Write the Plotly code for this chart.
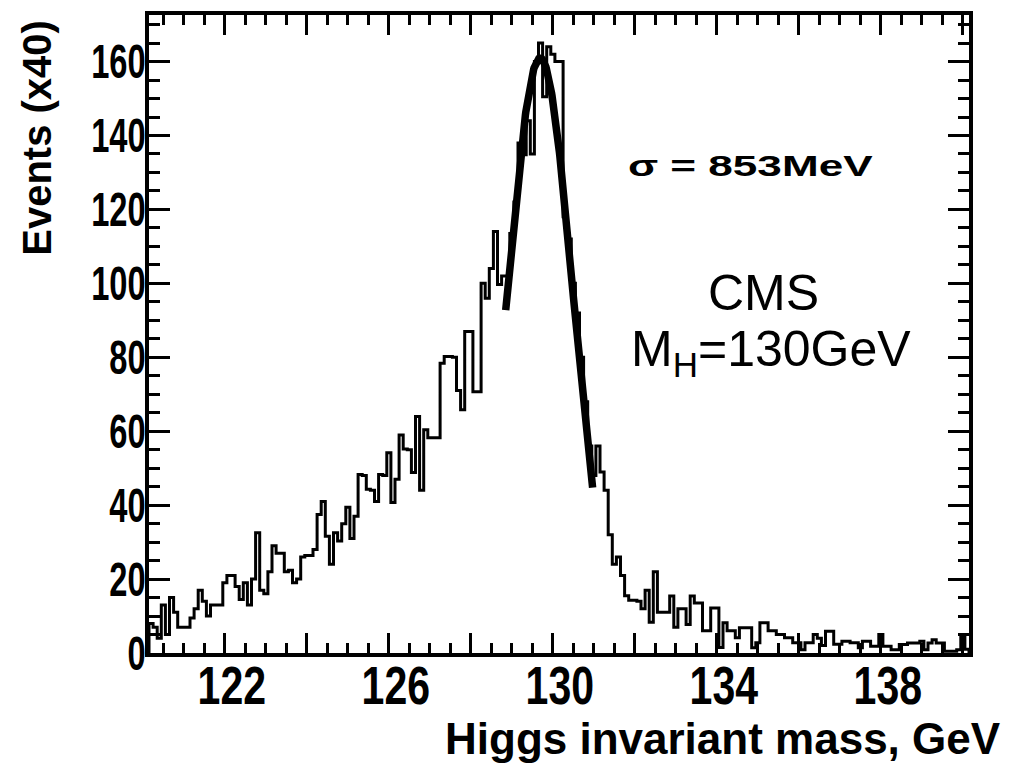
import numpy as np
import plotly.graph_objects as go

# ---------------- data ----------------
bin_start = 120.15          # GeV, left edge of first bin
bin_width = 0.1             # GeV
counts = [
    8, 7, 4, 13, 5, 15, 11, 7, 7, 7,
    9.5, 12, 17, 14, 10, 13, 13, 13, 19, 21,
    21, 18, 14.5, 19, 13, 20, 32.5, 17, 16, 22,
    29, 27, 27, 22, 22.4, 19, 20, 26, 26.4, 26.4,
    28, 37.5, 41, 31.6, 24, 32.5, 30.3, 35, 39.4, 31,
    37, 48.3, 48, 44.3, 44, 41, 48.3, 48, 54.2, 40.7,
    47, 59, 55.2, 55, 48.8, 64, 44, 60.4, 58.2, 58.2,
    58.2, 78.4, 80.2, 80.2, 80, 71, 65.8, 87, 87, 70.7,
    70.7, 100, 96, 104, 114, 99.7, 102, 102, 113.5, 122,
    138, 134.8, 144, 135, 160, 165, 150.5, 164, 162, 160,
    160, 118, 112, 100, 92, 80, 68, 56, 48, 56,
    49, 44, 32, 24, 26, 21, 15.5, 14.3, 14.3, 14,
    12, 17, 8.3, 22, 11, 11, 11, 15.4, 7, 12,
    12, 7.7, 15.4, 13.5, 13.5, 6, 6, 12.2, 12.2, 1.5,
    8.2, 6, 6, 4.1, 6.8, 6.8, 6.8, 1.4, 2.8, 8.2,
    8.2, 6, 6, 5, 5, 4.1, 4.1, 2.8, 2.8, 0.9,
    2.8, 2.8, 5, 4, 2, 5.9, 5.9, 2.4, 2.4, 3.2,
    3.2, 2.8, 2.8, 1.4, 3.2, 3.2, 1.8, 1.8, 5, 1.8,
    1.8, 0.9, 0.9, 2.3, 2.3, 2.7, 2.7, 2.7, 3.2, 0.9,
    2.7, 3.6, 2.7, 2.7, 0.5, 0.5, 0.5, 0.9, 4.5, 1,
]

# Gaussian fit parameters
fit_mean = 129.69
fit_sigma = 0.80
fit_amp = 161.0
fit_lo, fit_hi = 128.85, 130.97

x_tickvals = [122, 124, 126, 128, 130, 132, 134, 136, 138, 140]
x_ticktext = ["122", "", "126", "", "130", "", "134", "", "138", ""]
y_tickvals = [0, 20, 40, 60, 80, 100, 120, 140, 160]
y_ticktext = ["0", "20", "40", "60", "80", "100", "120", "140", "160"]

x_range = [120.15, 140.15]
y_range = [0, 172.6]

# ---------------- build ----------------
n = len(counts)
edges = bin_start + bin_width * np.arange(n + 1)
hx = np.concatenate([[edges[0]], edges, [edges[-1]]])
hy = np.concatenate([[0], counts, [counts[-1]], [0]])

fx = np.linspace(fit_lo, fit_hi, 200)
fy = fit_amp * np.exp(-0.5 * ((fx - fit_mean) / fit_sigma) ** 2)

fig = go.Figure()
fig.add_trace(go.Scatter(x=hx, y=hy, mode="lines", line=dict(color="black", width=3, shape="hv"),
                         hoverinfo="skip", showlegend=False))
fig.add_trace(go.Scatter(x=fx, y=fy, mode="lines", line=dict(color="black", width=7.5),
                         hoverinfo="skip", showlegend=False))

tick_font = dict(family="Liberation Sans, Arial", color="black", weight=700)

fig.update_xaxes(range=x_range, showline=True, linewidth=3.5, linecolor="black", mirror="ticks",
                 ticks="inside", ticklen=20, tickwidth=3, tickcolor="black",
                 tickmode="array", tickvals=x_tickvals, ticktext=x_ticktext,
                 tickfont=dict(tick_font, size=54), ticklabelshift=7, ticklabelstandoff=-18,
                 minor=dict(ticks="inside", ticklen=10, tickwidth=3, tickcolor="black", dtick=0.5, tick0=120),
                 showgrid=False, zeroline=False)
fig.update_yaxes(range=y_range, showline=True, linewidth=3.5, linecolor="black", mirror="ticks",
                 ticks="inside", ticklen=21, tickwidth=3, tickcolor="black",
                 tickmode="array", tickvals=y_tickvals, ticktext=y_ticktext,
                 tickfont=dict(tick_font, size=48), ticklabelstandoff=-10,
                 minor=dict(ticks="inside", ticklen=11, tickwidth=3, tickcolor="black", dtick=5, tick0=0),
                 showgrid=False, zeroline=False)

bold = dict(family="Liberation Sans, Arial", color="black", weight=700)
reg = dict(family="Liberation Sans, Arial", color="black")

fig.add_annotation(text="Events (x40)", xref="paper", yref="paper", x=-0.137, y=0.807,
                   textangle=-90, showarrow=False, font=dict(bold, size=40),
                   xanchor="center", yanchor="middle")
fig.add_annotation(text="Higgs invariant mass, GeV", xref="paper", yref="paper", x=1.0415, y=-0.134,
                   showarrow=False, font=dict(bold, size=44), xanchor="right", yanchor="middle")
fig.add_annotation(text="σ = 853MeV", x=134.82, y=131.8, showarrow=False,
                   font=dict(bold, size=30), xanchor="center", yanchor="middle")
fig.add_annotation(text="CMS", x=135.14, y=97.4, showarrow=False,
                   font=dict(reg, size=50), xanchor="center", yanchor="middle")
fig.add_annotation(text="M<sub>H</sub>=130GeV", x=135.33, y=81.2, showarrow=False,
                   font=dict(reg, size=50), xanchor="center", yanchor="middle")

fig.update_layout(width=1009, height=764, margin=dict(l=149, r=40, t=15, b=111),
                  paper_bgcolor="white", plot_bgcolor="white", showlegend=False)

# The reference's tick labels are drawn condensed and the sigma label stretched;
# reproduce that by fitting the real text to a scaled length.
post = """
var gd = document.getElementById('{plot_id}');
function fit(nodes, factor){
  nodes.forEach(function(t){
    var w = t.getComputedTextLength();
    if (w > 0) { t.setAttribute('lengthAdjust', 'spacingAndGlyphs'); t.setAttribute('textLength', w * factor); }
  });
}
fit(gd.querySelectorAll('.xtick text'), 0.76);
fit(gd.querySelectorAll('.ytick text'), 0.68);
var ann = Array.prototype.filter.call(gd.querySelectorAll('.annotation-text'),
  function(t){ return t.textContent.indexOf('853') >= 0; });
fit(ann, 1.47);
"""

fig.write_html("out.html", post_script=post)
